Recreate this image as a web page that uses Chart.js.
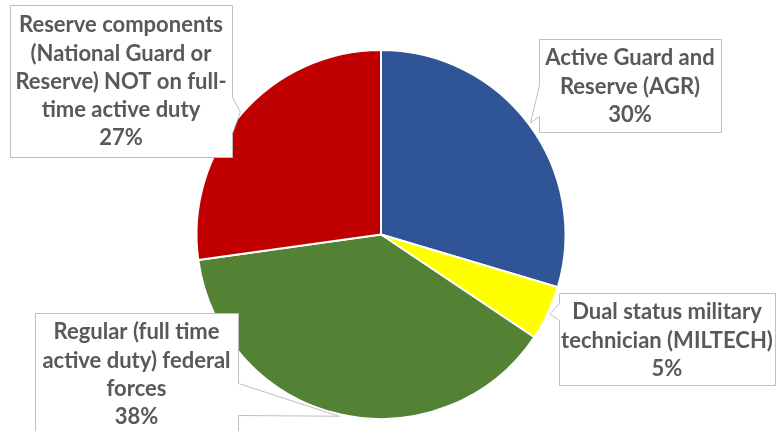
<!DOCTYPE html>
<html>
<head>
<meta charset="utf-8">
<script src="https://cdn.jsdelivr.net/npm/chart.js@4/dist/chart.umd.min.js"></script>
<style>
  html, body { margin: 0; padding: 0; background: #ffffff; }
  #wrap { width: 776px; height: 431px; position: relative; }
</style>
</head>
<body>
<div id="wrap"><canvas id="c" width="776" height="431"></canvas></div>
<script>
// ---- data ----
const categories = [
  'Active Guard and Reserve (AGR)',
  'Dual status military technician (MILTECH)',
  'Regular (full time active duty) federal forces',
  'Reserve components (National Guard or Reserve) NOT on full-time active duty'
];
const shares = [29.6, 4.8, 38.4, 27.2];
const labelLines = [
  ['Active Guard and', 'Reserve (AGR)'],
  ['Dual status military', 'technician (MILTECH)'],
  ['Regular (full time', 'active duty) federal', 'forces'],
  ['Reserve components', '(National Guard or', 'Reserve) NOT on full-', 'time active duty']
];
const sliceColors = ['#2F5597', '#FFFF00', '#548235', '#C00000'];

// ---- callout layout (box rectangles and pointer base on one box side) ----
const callouts = [
  { x: 539, y: 39,  w: 182, h: 93,  side: 'left',  b1: 85,  b2: 116, textTop: 44 },
  { x: 559, y: 293, w: 216, h: 92,  side: 'left',  b1: 303, b2: 320, textTop: 298 },
  { x: 35,  y: 313, w: 203, h: 140, side: 'right', b1: 383, b2: 415, textTop: 318 },
  { x: 10,  y: 5,   w: 222, h: 152, side: 'right', b1: 97,  b2: 133, textTop: 11 }
];

const calloutPlugin = {
  id: 'callouts',
  afterDraw(chart) {
    const ctx = chart.ctx;
    const meta = chart.getDatasetMeta(0);
    ctx.save();
    meta.data.forEach((arc, i) => {
      const p = arc.getProps(['x', 'y', 'startAngle', 'endAngle', 'outerRadius'], true);
      const mid = (p.startAngle + p.endAngle) / 2;
      const r = p.outerRadius + 2;
      const tx = p.x + Math.cos(mid) * r;
      const ty = p.y + Math.sin(mid) * r;
      const b = callouts[i];
      const x0 = b.x + 0.5, y0 = b.y + 0.5, x1 = b.x + b.w + 0.5, y1 = b.y + b.h + 0.5;
      ctx.beginPath();
      if (b.side === 'left') {
        ctx.moveTo(x0, y0);
        ctx.lineTo(x1, y0);
        ctx.lineTo(x1, y1);
        ctx.lineTo(x0, y1);
        ctx.lineTo(x0, b.b2 + 0.5);
        ctx.lineTo(tx, ty);
        ctx.lineTo(x0, b.b1 + 0.5);
        ctx.closePath();
      } else {
        ctx.moveTo(x0, y0);
        ctx.lineTo(x1, y0);
        ctx.lineTo(x1, b.b1 + 0.5);
        ctx.lineTo(tx, ty);
        ctx.lineTo(x1, b.b2 + 0.5);
        ctx.lineTo(x1, y1);
        ctx.lineTo(x0, y1);
        ctx.closePath();
      }
      ctx.fillStyle = '#ffffff';
      ctx.fill();
      ctx.strokeStyle = '#BFBFBF';
      ctx.lineWidth = 1;
      ctx.stroke();

      const lines = labelLines[i].concat([Math.round(shares[i]) + '%']);
      ctx.fillStyle = '#595959';
      ctx.font = 'bold 22px Lato';
      ctx.textAlign = 'center';
      ctx.textBaseline = 'middle';
      const cx = b.x + b.w / 2;
      const lh = 28.3;
      lines.forEach((t, k) => {
        ctx.fillText(t, cx, b.textTop + lh / 2 + k * lh);
      });
    });
    ctx.restore();
  }
};

new Chart(document.getElementById('c'), {
  type: 'pie',
  data: {
    labels: categories,
    datasets: [{
      data: shares,
      backgroundColor: sliceColors,
      borderColor: '#ffffff',
      borderWidth: 2
    }]
  },
  options: {
    responsive: false,
    animation: false,
    layout: { padding: { left: 195, top: 49, right: 209, bottom: 11 } },
    plugins: {
      legend: { display: false },
      tooltip: { enabled: false }
    }
  },
  plugins: [calloutPlugin]
});
</script>
</body>
</html>
